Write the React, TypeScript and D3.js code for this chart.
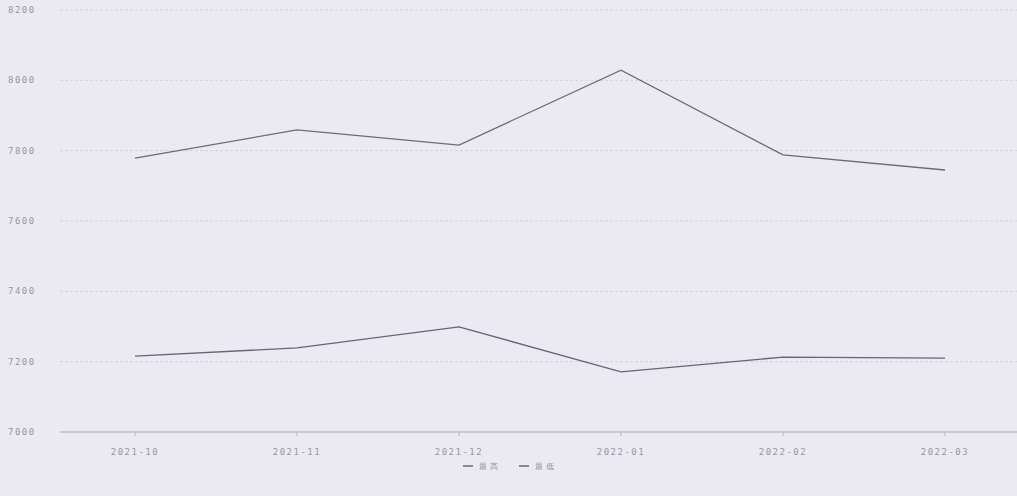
import * as d3 from "d3";

const months = ["2021-10", "2021-11", "2021-12", "2022-01", "2022-02", "2022-03"];
const highSeries = [7779, 7859, 7816, 8029, 7788, 7745];
const lowSeries = [7216, 7239, 7299, 7171, 7213, 7210];
const yTicks = [7000, 7200, 7400, 7600, 7800, 8000, 8200];
const seriesNames = ["最高", "最低"];

const W = 1017;
const H = 496;
const margin = { top: 10, right: 0, bottom: 64, left: 54 };

export default function App() {
  const x = d3
    .scalePoint<string>()
    .domain(months)
    .range([margin.left, margin.left + 162 * 6])
    .padding(0.5);

  const y = d3
    .scaleLinear()
    .domain([7000, 8200])
    .range([H - margin.bottom, margin.top]);

  const line = d3
    .line<number>()
    .x((_, i) => x(months[i]) as number)
    .y((d) => y(d));

  const colors = ["#75686f", "#62667a"];

  return (
    <svg
      width={W}
      height={H}
      style={{ position: "absolute", left: 0, top: 0, background: "#ebeaf2" }}
      fontFamily="DejaVu Sans Mono, monospace"
    >
      <rect width={W} height={H} fill="#ebeaf2" />
      {yTicks.map((t) => (
        <g key={t}>
          <line
            x1={60}
            x2={W}
            y1={y(t)}
            y2={y(t)}
            stroke={t === 7000 ? "#a9a8b2" : "#d3d2dc"}
            strokeDasharray={t === 7000 ? undefined : "3 2"}
          />
          <text
            x={8}
            y={y(t) + 3}
            fontSize={9}
            fill="#9896a3"
            letterSpacing={1.5}
          >
            {t}
          </text>
        </g>
      ))}
      {months.map((m) => (
        <g key={m}>
          <line
            x1={x(m)}
            x2={x(m)}
            y1={y(7000)}
            y2={y(7000) + 4}
            stroke="#b5b4be"
          />
          <text
            x={x(m)}
            y={y(7000) + 23}
            fontSize={9}
            fill="#9896a3"
            textAnchor="middle"
            letterSpacing={1.5}
          >
            {m}
          </text>
        </g>
      ))}
      <path d={line(highSeries) || ""} fill="none" stroke={colors[0]} strokeWidth={1.3} />
      <path d={line(lowSeries) || ""} fill="none" stroke={colors[1]} strokeWidth={1.3} />
      {seriesNames.map((n, i) => (
        <g key={n} transform={`translate(${463 + i * 56},${466})`}>
          <line x1={0} x2={10} y1={0} y2={0} stroke={colors[i]} strokeWidth={1.5} />
          <text x={16} y={3} fontSize={8} fill="#8f8d99" letterSpacing={3}>
            {n}
          </text>
        </g>
      ))}
    </svg>
  );
}
